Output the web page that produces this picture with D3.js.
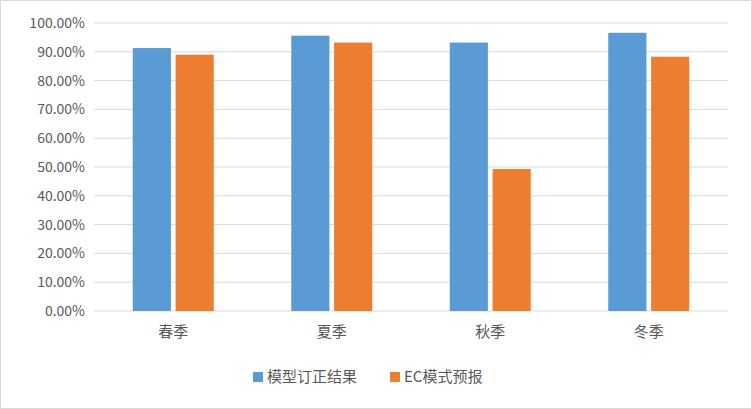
<!DOCTYPE html><html><head><meta charset="utf-8"><script src="https://cdn.jsdelivr.net/npm/d3@7"></script>
<style>body{margin:0;background:#fff}</style></head><body><svg id="c" width="752" height="409"></svg><script>
const categories=["春季","夏季","秋季","冬季"];
const seriesNames=["模型订正结果","EC模式预报"];
const modelValues=[0.913,0.956,0.932,0.966];
const ecValues=[0.890,0.932,0.493,0.883];
const yTicks=[0,0.1,0.2,0.3,0.4,0.5,0.6,0.7,0.8,0.9,1.0];
const colors=["#5b9bd5","#ed7d31"];
const svg=d3.select("#c");
const font="'Noto Sans CJK SC','Liberation Sans',sans-serif";
svg.append("rect").attr("x",0.5).attr("y",0.5).attr("width",751).attr("height",408).attr("fill","#fff").attr("stroke","#d9d9d9");
const L=94,R=728,T=23,B=311;
const x=d3.scaleBand().domain(categories).range([L,R]);
const y=d3.scaleLinear().domain([0,1]).range([B,T]);
const g=svg.append("g");
yTicks.forEach(t=>{g.append("line").attr("x1",L).attr("x2",R).attr("y1",y(t)).attr("y2",y(t)).attr("stroke","#d9d9d9");
g.append("text").attr("x",L-9).attr("y",y(t)).attr("dy","0.35em").attr("text-anchor","end").attr("font-family",font).attr("font-size",14).attr("fill","#595959").text((t*100).toFixed(2)+"%");});
const inner=d3.scaleBand().domain([0,1]).range([0,81]).paddingInner(0.11);
const off=(x.bandwidth()-81)/2;
[modelValues,ecValues].forEach((vals,si)=>{
g.selectAll(null).data(vals).enter().append("rect").attr("x",(d,i)=>x(categories[i])+off+inner(si)).attr("width",inner.bandwidth())
.attr("y",d=>y(d)).attr("height",d=>B-y(d)).attr("fill",colors[si]);});
categories.forEach(c=>g.append("text").attr("x",x(c)+x.bandwidth()/2).attr("y",337).attr("text-anchor","middle").attr("font-family",font).attr("font-size",15).attr("fill","#595959").text(c));
const lg=[[253,"模型订正结果"],[390,"EC模式预报"]];
lg.forEach((l,i)=>{g.append("rect").attr("x",l[0]).attr("y",372).attr("width",10).attr("height",10).attr("fill",colors[i]);
g.append("text").attr("x",l[0]+14).attr("y",382).attr("font-family",font).attr("font-size",15).attr("fill","#595959").text(seriesNames[i]);});
</script></body></html>
